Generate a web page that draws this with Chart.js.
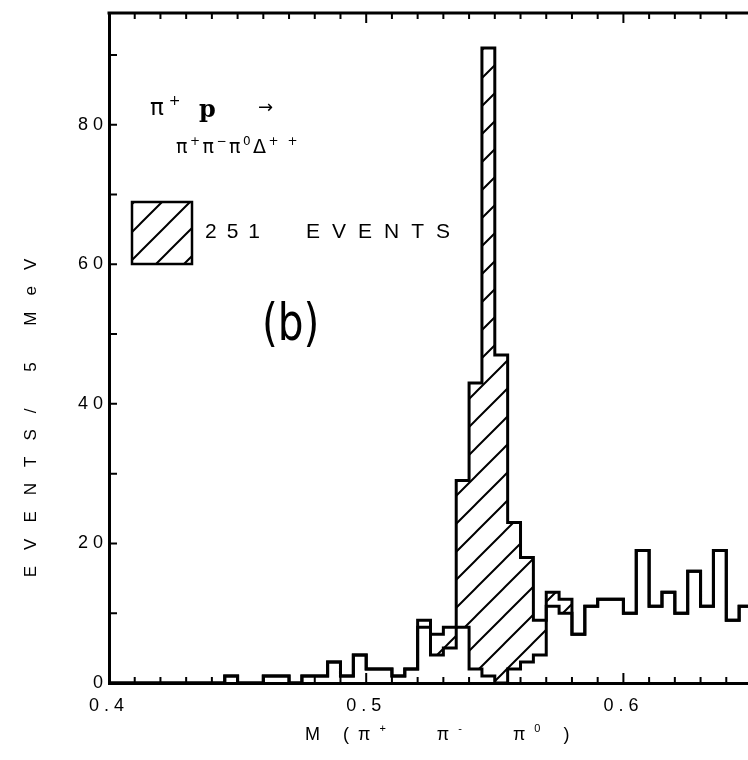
<!DOCTYPE html>
<html>
<head>
<meta charset="utf-8">
<script src="https://cdn.jsdelivr.net/npm/chart.js@4.4.1/dist/chart.umd.min.js"></script>
<style>
  html, body { margin: 0; padding: 0; background: #fff; overflow: hidden; }
  #wrap { width: 748px; height: 760px; overflow: hidden; }
</style>
</head>
<body>
<div id="wrap"><canvas id="histCanvas" width="764" height="760"></canvas></div>
<script>
// M(pi+ pi- pi0) histogram, 5 MeV bins, lower edge of each bin
const massBinLow = [
  0.400, 0.405, 0.410, 0.415, 0.420, 0.425, 0.430, 0.435, 0.440, 0.445,
  0.450, 0.455, 0.460, 0.465, 0.470, 0.475, 0.480, 0.485, 0.490, 0.495,
  0.500, 0.505, 0.510, 0.515, 0.520, 0.525, 0.530, 0.535, 0.540, 0.545,
  0.550, 0.555, 0.560, 0.565, 0.570, 0.575, 0.580, 0.585, 0.590, 0.595,
  0.600, 0.605, 0.610, 0.615, 0.620, 0.625, 0.630, 0.635, 0.640, 0.645
];
const massTopEdge = 0.650;

// open (unhatched) histogram
const otherEvents = [
  0, 0, 0, 0, 0, 0, 0, 0, 0, 1,
  0, 0, 1, 1, 0, 1, 1, 3, 1, 4,
  2, 2, 1, 2, 8, 4, 5, 8, 2, 1,
  0, 2, 3, 4, 11, 10, 7, 11, 12, 12,
  10, 19, 11, 13, 10, 16, 11, 19, 9, 11
];

// hatched histogram (251 events), stacked on top of the open one
const etaEvents = [
  0, 0, 0, 0, 0, 0, 0, 0, 0, 0,
  0, 0, 0, 0, 0, 0, 0, 0, 0, 0,
  0, 0, 0, 0, 1, 3, 3, 21, 41, 90,
  47, 21, 15, 5, 2, 2, 0, 0, 0, 0,
  0, 0, 0, 0, 0, 0, 0, 0, 0, 0
];

const xTickLabels = ['0.4', '0.5', '0.6'];
const yTickLabels = ['0', '20', '40', '60', '80'];

const FONT = 'Liberation Sans, DejaVu Sans, sans-serif';

function makeHatch(ctx) {
  const s = 28;
  const c = document.createElement('canvas');
  c.width = s; c.height = s;
  const g = c.getContext('2d');
  g.strokeStyle = '#000';
  g.lineWidth = 2;
  g.beginPath();
  g.moveTo(-2, s + 2); g.lineTo(s + 2, -2);
  g.moveTo(-2, 2); g.lineTo(2, -2);
  g.moveTo(s - 2, s + 2); g.lineTo(s + 2, s - 2);
  g.stroke();
  return ctx.createPattern(c, 'repeat');
}

// draw characters one by one with extra spacing; parts = [text, isSuperscript]
function spacedText(ctx, parts, x, y, size, gap, family) {
  let cx = x;
  parts.forEach(([txt, sup]) => {
    const fs = sup ? Math.round(size * 0.62) : size;
    ctx.font = fs + 'px ' + (family || FONT);
    const dy = sup ? -size * 0.42 : 0;
    for (const ch of txt) {
      ctx.fillText(ch, cx, y + dy);
      cx += ctx.measureText(ch).width + gap;
    }
  });
  return cx;
}

function textWidth(ctx, parts, size, gap, family) {
  let w = 0;
  parts.forEach(([txt, sup]) => {
    const fs = sup ? Math.round(size * 0.62) : size;
    ctx.font = fs + 'px ' + (family || FONT);
    for (const ch of txt) w += ctx.measureText(ch).width + gap;
  });
  return w - gap;
}

const canvas = document.getElementById('histCanvas');
const hatch = makeHatch(canvas.getContext('2d'));

const openPts = massBinLow.map((m, i) => ({ x: m, y: otherEvents[i] }));
openPts.push({ x: massTopEdge, y: otherEvents[otherEvents.length - 1] });
const totalPts = massBinLow.map((m, i) => ({ x: m, y: otherEvents[i] + etaEvents[i] }));
totalPts.push({ x: massTopEdge, y: otherEvents[otherEvents.length - 1] + etaEvents[etaEvents.length - 1] });

const isMajorX = (v) => Math.abs(v * 10 - Math.round(v * 10)) < 1e-6;

// frame on top, inward tick marks, legend and annotations
const framePlugin = {
  id: 'frame',
  beforeDraw(chart) {
    chart.ctx.letterSpacing = '5px';
  },
  afterDraw(chart) {
    const { ctx, chartArea: a, scales: { x, y } } = chart;
    ctx.save();
    ctx.letterSpacing = '0px';
    ctx.strokeStyle = '#000';
    ctx.fillStyle = '#000';
    ctx.lineCap = 'butt';

    ctx.lineWidth = 3;
    ctx.beginPath();
    ctx.moveTo(a.left - 1.5, a.top);
    ctx.lineTo(a.right + 10, a.top);
    ctx.stroke();

    ctx.lineWidth = 2;
    ctx.beginPath();
    x.ticks.forEach((t, i) => {
      const px = x.getPixelForTick(i);
      if (px <= a.left + 2) return;
      const len = isMajorX(t.value) ? 10 : 6;
      ctx.moveTo(px, a.bottom); ctx.lineTo(px, a.bottom - len);
      ctx.moveTo(px, a.top); ctx.lineTo(px, a.top + len);
    });
    y.ticks.forEach((t, i) => {
      const py = y.getPixelForTick(i);
      if (py >= a.bottom - 2) return;
      ctx.moveTo(a.left, py); ctx.lineTo(a.left + 8, py);
    });
    ctx.stroke();

    // legend box
    ctx.fillStyle = hatch;
    ctx.fillRect(132, 202, 60, 62);
    ctx.lineWidth = 2.5;
    ctx.strokeRect(132, 202, 60, 62);
    ctx.fillStyle = '#000';

    ctx.textBaseline = 'alphabetic';
    ctx.textAlign = 'left';
    spacedText(ctx, [['251', false]], 205, 238, 21, 10);
    spacedText(ctx, [['EVENTS', false]], 306, 238, 21, 12);

    // reaction
    spacedText(ctx, [['π', false], ['+', true]], 150, 115, 23, 5, 'DejaVu Sans');
    ctx.font = 'bold 24px DejaVu Serif';
    ctx.fillText('p', 199, 117);
    ctx.font = '18px DejaVu Sans';
    ctx.fillText('→', 258, 113);
    spacedText(ctx, [['π', false], ['+', true], ['π', false], ['−', true], ['π', false],
      ['0', true], ['Δ', false], ['+ +', true]], 176, 153, 19, 2.5, 'DejaVu Sans');

    // panel label, tall and narrow
    ctx.save();
    ctx.translate(262, 340);
    ctx.scale(0.78, 1);
    ctx.font = '52px DejaVu Sans';
    ctx.fillText('(b)', 0, 0);
    ctx.restore();

    // axis titles
    const yParts = [['EVENTS/ 5 MeV', false]];
    const yw = textWidth(ctx, yParts, 17, 16);
    ctx.save();
    ctx.translate(36, 418);
    ctx.rotate(-Math.PI / 2);
    spacedText(ctx, yParts, -yw / 2, 0, 17, 16);
    ctx.restore();

    const xParts = [['M (', false], ['π', false], ['+', true], ['   ', false], ['π', false],
      ['-', true], ['   ', false], ['π', false], ['0', true], [' )', false]];
    spacedText(ctx, xParts, 305, 740, 18, 9);
    ctx.restore();
  }
};

new Chart(canvas, {
  type: 'line',
  data: {
    datasets: [
      {
        label: 'other',
        data: openPts,
        stepped: 'before',
        borderColor: '#000',
        borderWidth: 3,
        pointRadius: 0,
        fill: false,
      },
      {
        label: '251 EVENTS',
        data: totalPts,
        stepped: 'before',
        borderColor: '#000',
        borderWidth: 3,
        pointRadius: 0,
        fill: '-1',
        backgroundColor: hatch,
      },
    ],
  },
  options: {
    responsive: false,
    animation: false,
    events: [],
    layout: { padding: { top: 13, right: 8, left: 0, bottom: 0 } },
    plugins: {
      legend: { display: false },
      tooltip: { enabled: false },
      filler: { propagate: false },
    },
    scales: {
      x: {
        type: 'linear',
        min: 0.4,
        max: 0.65,
        afterFit(s) { s.height = 77; },
        grid: { display: false, drawTicks: false },
        border: { display: true, color: '#000', width: 3 },
        ticks: {
          stepSize: 0.01,
          autoSkip: false,
          maxRotation: 0,
          includeBounds: false,
          padding: 12,
          color: '#000',
          font: { family: FONT, size: 18 },
          callback: (v) => {
            const s = (Math.round(v * 10) / 10).toFixed(1);
            return isMajorX(v) && xTickLabels.includes(s) ? s : '';
          },
        },
      },
      y: {
        type: 'linear',
        min: 0,
        max: 96,
        afterFit(s) { s.width = 109; },
        grid: { display: false, drawTicks: false },
        border: { display: true, color: '#000', width: 3 },
        ticks: {
          stepSize: 10,
          includeBounds: false,
          padding: 1,
          color: '#000',
          font: { family: FONT, size: 18 },
          callback: (v) => (yTickLabels.includes(String(v)) ? String(v) : ''),
        },
      },
    },
  },
  plugins: [framePlugin],
});
</script>
</body>
</html>
